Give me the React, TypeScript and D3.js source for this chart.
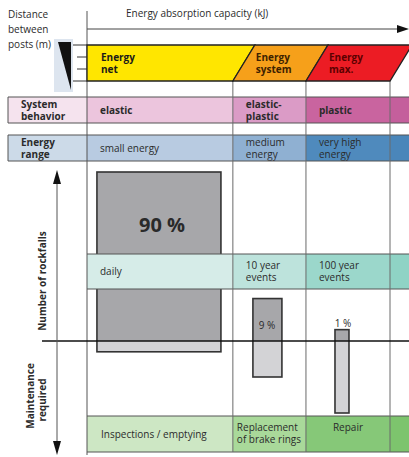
import * as d3 from "d3";

// energy classes along the absorption axis (arbitrary energy units 0..100)
const columns = ["Energy net", "Energy system", "Energy max."];
const columnEdges = [0, 45.3, 68, 94.1, 100];
const behaviorLabels = ["elastic", "elastic-\nplastic", "plastic", ""];
const energyLabels = ["small energy", "medium\nenergy", "very high\nenergy", ""];
const frequencyLabels = ["daily", "10 year\nevents", "100 year\nevents", ""];
const maintenanceLabels = ["Inspections / emptying", "Replacement\nof brake rings", "Repair", ""];
const rockfallShare = [90, 9, 1];
const maintenanceEffort = [15, 50, 100];

const W = 409;
const H = 457;
const FONT = "'Open Sans', 'Noto Sans', sans-serif";
const INK = "#2b2b2b";
const GRID = "#6a6a6a";

const headerFill = ["#ffe600", "#f6a01a", "#ec1c24"];
const headerInk = ["#1a1a1a", "#3d2200", "#5c0000"];
const behaviorFill = ["#ecc5dd", "#db9bc6", "#c9649f", "#c45f9c"];
const energyFill = ["#b8cbe1", "#8fb0d2", "#4f8abd", "#4a86ba"];
const freqFill = ["#d6ece8", "#bde3dc", "#9bd7cb", "#8fd3c5"];
const maintFill = ["#cde7c4", "#a9d99a", "#86c878", "#7dc46d"];

function Lines({ x, y, text, size = 10, weight = 400, fill = INK, anchor = "start", lh = 12 }: any) {
  const parts = String(text).split("\n");
  const y0 = y - ((parts.length - 1) * lh) / 2;
  return (
    <text x={x} fontFamily={FONT} fontSize={size} fontWeight={weight} fill={fill} textAnchor={anchor}>
      {parts.map((p, i) => (
        <tspan key={i} x={x} y={y0 + i * lh} dy="0.35em">
          {p}
        </tspan>
      ))}
    </text>
  );
}

export default function App() {
  const x = d3.scaleLinear().domain([0, 100]).range([87, 409]);
  const skew = 22;
  const hTop = 45;
  const hBot = 81;
  const baseY = 341;
  const up = d3.scalePow().exponent(0.6).domain([0, 90]).range([0, 169]);
  const down = d3.scaleLinear().domain([0, 100]).range([0, 72]);

  const cells = columnEdges.slice(0, -1).map((e, i) => ({ x0: x(e), x1: x(columnEdges[i + 1]) }));

  const row = (y0: number, y1: number, fills: string[], labels: string[], opts: any = {}) =>
    cells.map((c, i) => (
      <g key={i}>
        <rect x={c.x0} y={y0} width={c.x1 - c.x0} height={y1 - y0} fill={fills[i]} />
        {labels[i] && (
          <Lines
            x={opts.center?.[i] ? (c.x0 + c.x1) / 2 : c.x0 + (opts.pad?.[i] ?? 13)}
            y={opts.ty ? opts.ty(i, labels[i]) : (y0 + y1) / 2}
            text={labels[i]}
            weight={opts.weight ?? 400}
            anchor={opts.center?.[i] ? "middle" : "start"}
          />
        )}
      </g>
    ));

  const barW = [124, 29, 14];
  const barShift = [-1, -2, -6];

  return (
    <svg width={W} height={H} style={{ position: "absolute", left: 0, top: 0, background: "#fff" }}>
      {/* top-left labels */}
      <Lines x={8} y={29} text={"Distance\nbetween\nposts (m)"} lh={15} />
      <text x={126} y={17} fontFamily={FONT} fontSize={10} fill={INK}>
        Energy absorption capacity (kJ)
      </text>
      <line x1={87} x2={398} y1={29} y2={29} stroke="#444" strokeWidth={1} />
      <path d="M397,25 L409,29 L397,33 Z" fill="#111" />

      {/* post distance wedge */}
      <rect x={54} y={39} width={19} height={53} fill="#dde5ef" />
      <path d="M58,42 L71,42 L71,90 Z" fill="#111" />
      <line x1={73} x2={87} y1={45} y2={45} stroke="#333" />
      <line x1={77} x2={87} y1={57} y2={57} stroke="#333" />
      <line x1={77} x2={87} y1={69} y2={69} stroke="#333" />
      <line x1={73} x2={87} y1={81} y2={81} stroke="#333" />

      {/* row label cells */}
      <rect x={8} y={97} width={79} height={26} fill="#f5e3ee" />
      <rect x={8} y={135} width={79} height={26} fill="#ccdae8" />
      {row(97, 123, behaviorFill, behaviorLabels, { weight: 700 })}
      {row(135, 161, energyFill, energyLabels)}
      <Lines x={21} y={110} text={"System\nbehavior"} weight={700} />
      <Lines x={21} y={148} text={"Energy\nrange"} weight={700} />
      {[97, 123, 135, 161].map((y) => (
        <line key={y} x1={8} x2={409} y1={y} y2={y} stroke="#555" strokeWidth={1.2} />
      ))}
      <line x1={8} x2={8} y1={97} y2={123} stroke="#555" />
      <line x1={8} x2={8} y1={135} y2={161} stroke="#555" />

      {/* rockfall bars (behind frequency band) */}
      {rockfallShare.map((v, i) => {
        const cx = (cells[i].x0 + cells[i].x1) / 2 + barShift[i];
        const bx = cx - barW[i] / 2;
        const top = baseY - up(v);
        const bot = baseY + down(maintenanceEffort[i]);
        return (
          <g key={i}>
            <rect x={bx} y={top} width={barW[i]} height={baseY - top} fill="#a7a7aa" />
            <rect x={bx} y={baseY} width={barW[i]} height={bot - baseY} fill="#d3d3d6" />
            <rect x={bx} y={top} width={barW[i]} height={bot - top} fill="none" stroke="#333" strokeWidth={1.6} />
          </g>
        );
      })}

      {/* frequency band */}
      {row(254, 289, freqFill, frequencyLabels, {
        ty: (i: number) => (i === 0 ? 271.5 : 271),
      })}
      <line x1={87} x2={409} y1={254} y2={254} stroke="#555" />
      <line x1={87} x2={409} y1={289} y2={289} stroke="#555" />

      {/* maintenance band */}
      {row(416, 452, maintFill, maintenanceLabels, {
        pad: [14, 4, 13, 13],
        center: [false, false, true, false],
        ty: (i: number) => (i === 0 ? 434 : i === 1 ? 433.5 : 427),
      })}
      <line x1={87} x2={409} y1={416} y2={416} stroke="#555" />
      <line x1={87} x2={409} y1={452} y2={452} stroke="#555" />

      {/* grid verticals */}
      {columnEdges.slice(1, -1).map((e) => (
        <line key={e} x1={x(e)} x2={x(e)} y1={hBot} y2={452} stroke={GRID} strokeWidth={1} />
      ))}
      <line x1={87} x2={87} y1={11} y2={455} stroke="#555" strokeWidth={1} />

      {/* header parallelograms */}
      {columns.map((c, i) => {
        const a = x(columnEdges[i]);
        const b = x(columnEdges[i + 1]);
        const p =
          i === 0
            ? `M${a},${hTop} L${b + skew},${hTop} L${b},${hBot} L${a},${hBot} Z`
            : `M${a + skew},${hTop} L${b + skew},${hTop} L${b},${hBot} L${a},${hBot} Z`;
        return (
          <g key={c}>
            <path d={p} fill={headerFill[i]} stroke="#222" strokeWidth={1.3} />
            <Lines
              x={i === 0 ? a + 14 : a + 23}
              y={63}
              text={c.replace(" ", "\n")}
              weight={700}
              fill={headerInk[i]}
            />
          </g>
        );
      })}

      {/* percentages */}
      <text x={162} y={232} textAnchor="middle" fontFamily={FONT} fontSize={20} fontWeight={700} fill="#2a2a2a">
        {rockfallShare[0]} %
      </text>
      <text x={267} y={329} textAnchor="middle" fontFamily={FONT} fontSize={10} fill={INK}>
        {rockfallShare[1]} %
      </text>
      <text x={343} y={327} textAnchor="middle" fontFamily={FONT} fontSize={10} fill={INK}>
        {rockfallShare[2]} %
      </text>

      {/* baseline */}
      <line x1={42} x2={409} y1={baseY} y2={baseY} stroke="#111" strokeWidth={1.5} />

      {/* left vertical axis */}
      <line x1={57} x2={57} y1={180} y2={444} stroke="#555" strokeWidth={1} />
      <path d="M53,184 L57,170 L61,184 Z" fill="#111" />
      <path d="M53,441 L57,455 L61,441 Z" fill="#111" />
      <text
        transform="translate(46,281) rotate(-90)"
        textAnchor="middle"
        fontFamily={FONT}
        fontSize={10}
        fontWeight={700}
        fill={INK}
      >
        Number of rockfalls
      </text>
      <text transform="translate(34,396) rotate(-90)" textAnchor="middle" fontFamily={FONT} fontSize={10} fontWeight={700} fill={INK}>
        Maintenance
      </text>
      <text transform="translate(46,400) rotate(-90)" textAnchor="middle" fontFamily={FONT} fontSize={10} fontWeight={700} fill={INK}>
        required
      </text>
    </svg>
  );
}
